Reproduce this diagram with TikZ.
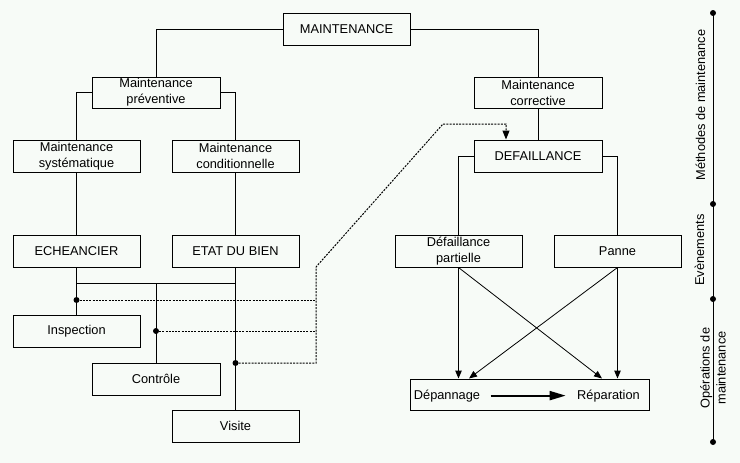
\documentclass[tikz,border=0pt]{standalone}
\usepackage{fontspec}
\setmainfont{Liberation Sans}
\usetikzlibrary{arrows.meta}
\definecolor{bgcol}{RGB}{247,251,247}
\begin{document}
\begin{tikzpicture}[x=1pt,y=-1pt, line width=1pt,
  box/.style={draw, minimum width=127pt, minimum height=32pt, inner sep=0pt, align=center, font=\fontsize{12.8}{16}\selectfont},
  lbl/.style={font=\fontsize{12.8}{16}\selectfont, inner sep=0pt, align=center},
  tip/.style={-{Triangle[length=8pt,width=6.5pt]}},
  dots/.style={dash pattern=on 2pt off 1.2pt},
  pt/.style={circle, fill, inner sep=0pt, minimum size=6pt}]
\fill[bgcol] (0,0) rectangle (740,463);
\useasboundingbox (0,0) rectangle (740,463);

% boxes
\node[box] (main) at (346.5,29) {MAINTENANCE};
\node[box, minimum width=128pt, minimum height=31pt] (prev) at (156,92.5) {Maintenance\\préventive};
\node[box, minimum width=128pt, minimum height=31pt] (corr) at (538,92.5) {Maintenance\\corrective};
\node[box] (sys) at (76.5,156) {Maintenance\\systématique};
\node[box] (cond) at (235.5,156) {Maintenance\\conditionnelle};
\node[box, minimum width=128pt] (defa) at (538,156) {DEFAILLANCE};
\node[box] (ech) at (76.5,251) {ECHEANCIER};
\node[box] (etat) at (235.5,251) {ETAT DU BIEN};
\node[box] (dpart) at (458.5,251) {Défaillance\\partielle};
\node[box] (panne) at (617.5,251) {Panne};
\node[box] (insp) at (76.5,331) {Inspection};
\node[box, minimum width=128pt] (ctrl) at (156,379) {Contrôle};
\node[box] (visite) at (235.5,426) {Visite};
\node[box, minimum width=239pt, minimum height=31pt] (op) at (529.5,394.5) {};
\node[lbl, anchor=base] (dep) at (447,399) {Dépannage};
\node[lbl, anchor=base] (rep) at (608.5,399) {Réparation};

% tree connectors
\draw (main.west) -| (prev.north);
\draw (main.east) -| (corr.north);
\draw (prev.west) -| (sys.north);
\draw (prev.east) -| (cond.north);
\draw (sys.south) -- (ech.north);
\draw (cond.south) -- (etat.north);
\draw (corr.south) -- (defa.north);
\draw (defa.west) -| (dpart.north);
\draw (defa.east) -| (panne.north);

% operations tree
\coordinate (j1) at (76.5,283);
\coordinate (j2) at (156,283);
\coordinate (j3) at (235.5,283);
\draw (ech.south) -- (insp.north);
\draw (j1) -- (j3);
\draw (etat.south) -- (visite.north);
\draw (j2) -- (ctrl.north);
\node[pt] (d1) at (76.5,300) {};
\node[pt] (d2) at (156,331) {};
\node[pt] (d3) at (235.5,363) {};

% dotted links
\coordinate (k1) at (316,300);
\coordinate (k2) at (316,331);
\coordinate (k3) at (316,363);
\coordinate (k4) at (316,267);
\coordinate (k5) at (443,124);
\coordinate (k6) at (506,124);
\draw[dots] (d1.center) -- (k1);
\draw[dots] (d2.center) -- (k2);
\draw[dots, -{Triangle[length=9pt,width=7pt]}] (d3.center) -- (k3) -- (k4) -- (k5) -- (k6) -- (k6 |- defa.north);

% event arrows
\coordinate (t1) at (602,378.5);
\coordinate (t2) at (469,378.5);
\draw[tip] (dpart.south) -- (dpart.south |- op.north);
\draw[tip] (panne.south) -- (panne.south |- op.north);
\draw[tip, line width=0.8pt] (dpart.south) -- (t1);
\draw[tip, line width=0.8pt] (panne.south) -- (t2);
\draw[line width=2pt, -{Triangle[length=16pt,width=9pt]}] ([xshift=10pt]dep.east) -- ([xshift=-11pt]rep.west);

% axis
\coordinate (a1) at (713,13);
\coordinate (a4) at (713,442);
\draw (a1) -- (a4);
\node[pt] at (a1) {};
\node[pt] (a2) at (713,204) {};
\node[pt] (a3) at (713,299) {};
\node[pt] at (a4) {};
\node[lbl, rotate=90, anchor=base] at (705,105) {Méthodes de maintenance};
\node[lbl, rotate=90, anchor=base] at (704,250) {Evènements};
\node[lbl, rotate=90, anchor=center] at (713,368) {Opérations de\\maintenance};
\end{tikzpicture}
\end{document}
